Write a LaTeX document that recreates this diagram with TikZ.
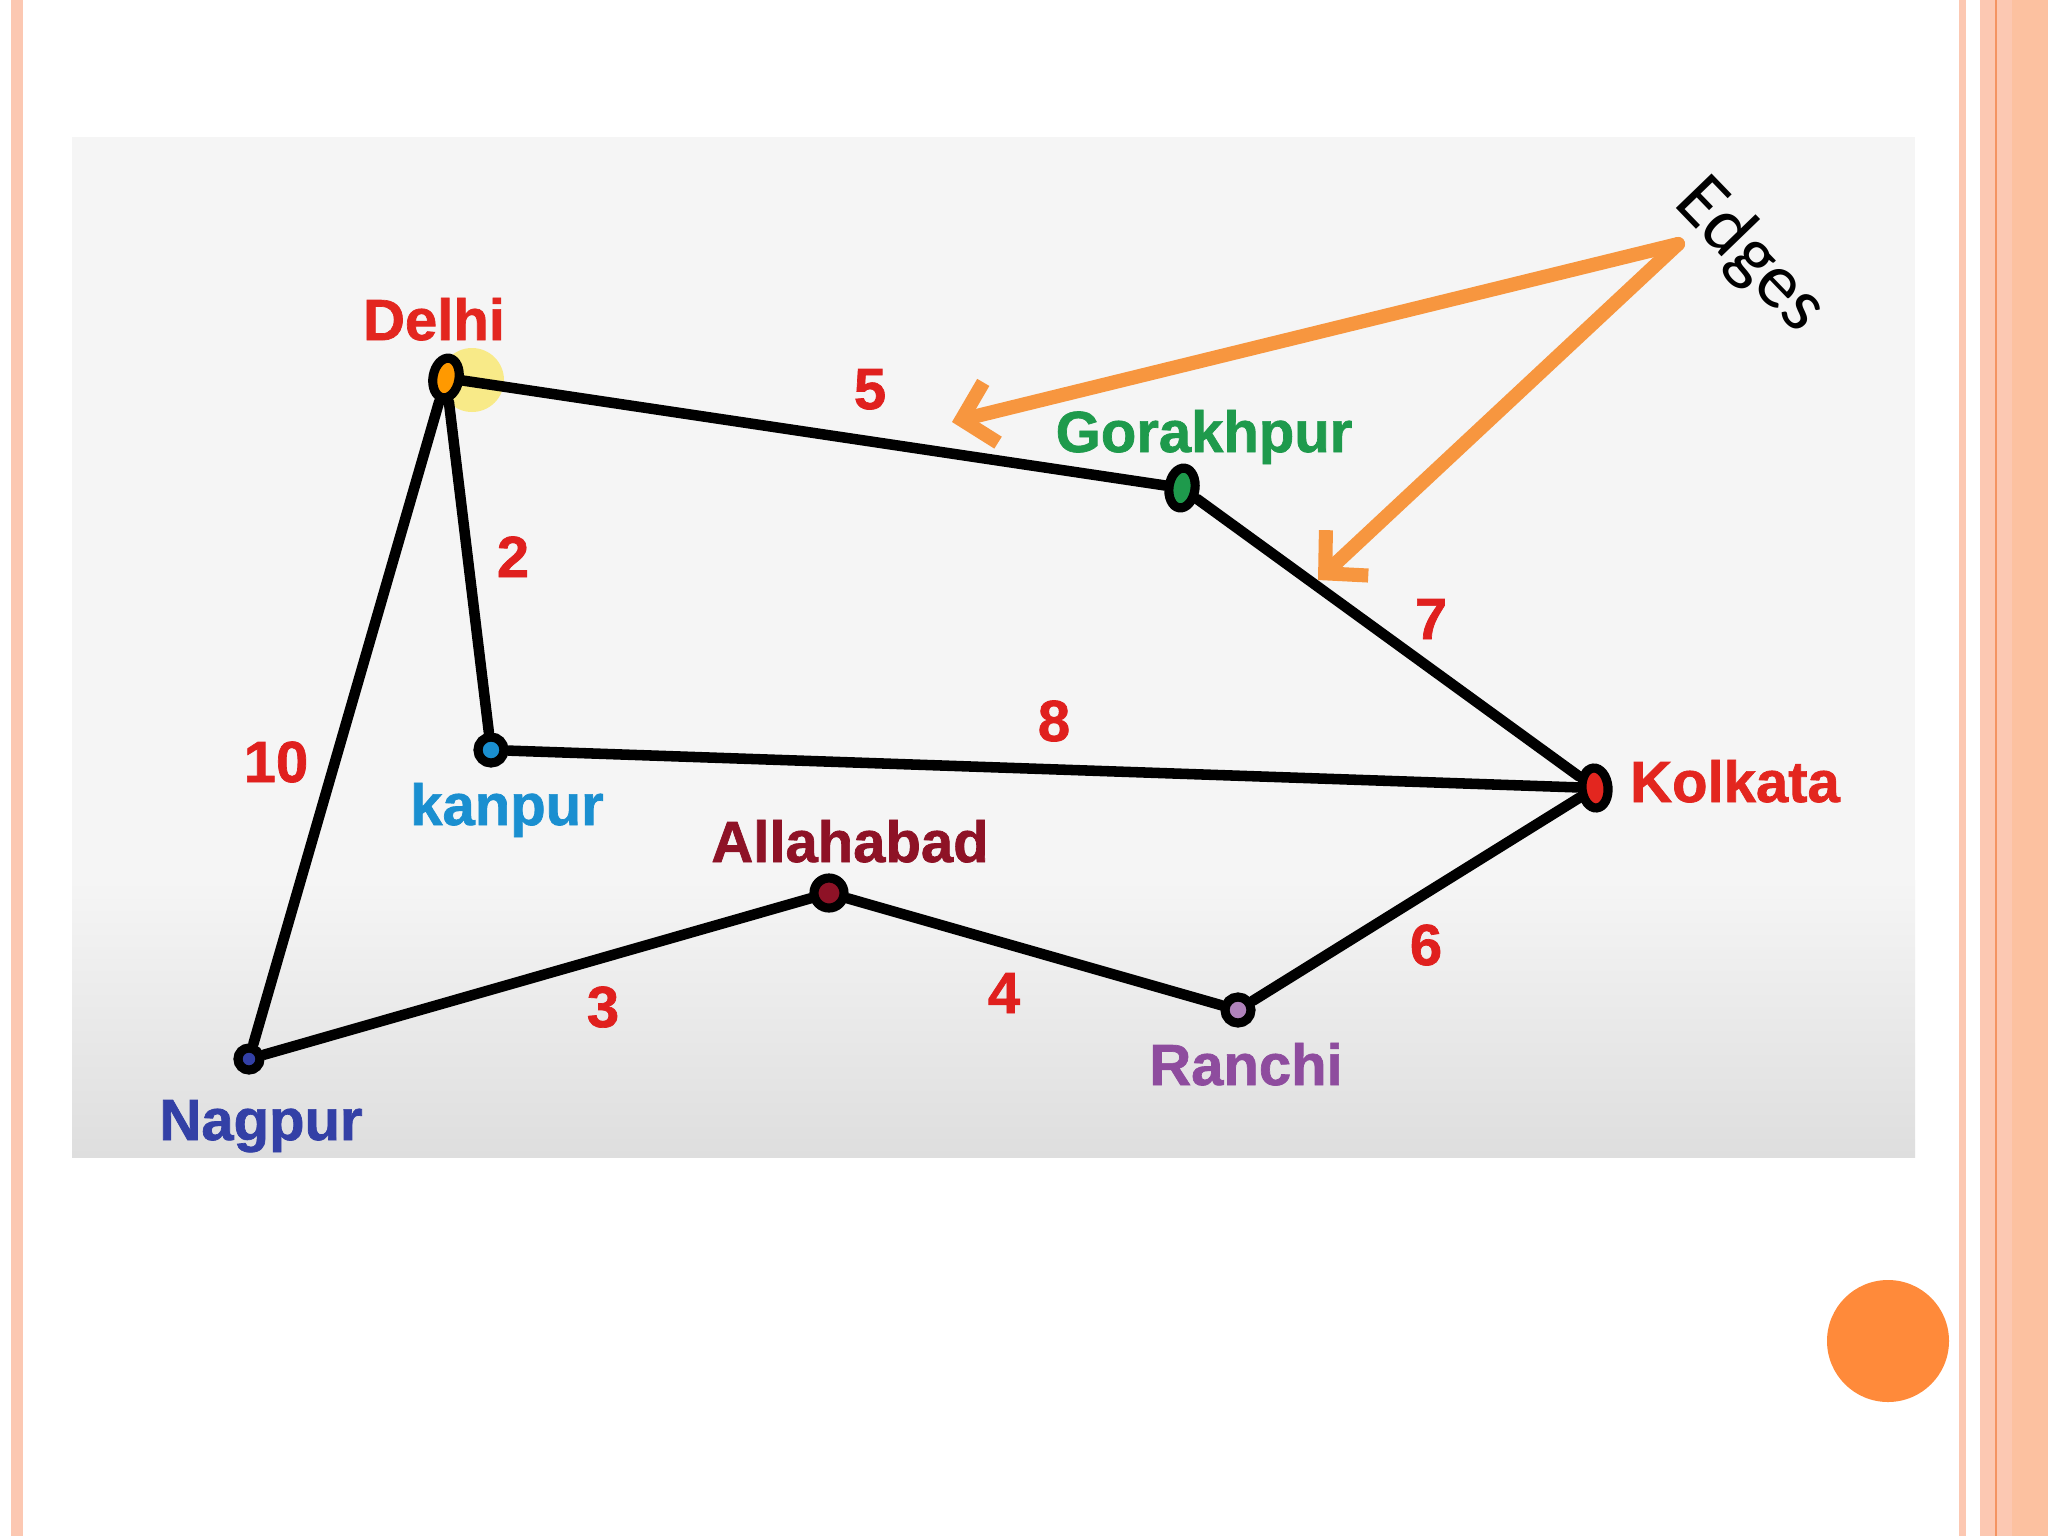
\documentclass[tikz,border=0pt]{standalone}
\usepackage{fontspec}
\setmainfont{Liberation Sans}[BoldFeatures={FakeBold=1.2}]
\newfontfamily\edgefont{Carlito}
\usetikzlibrary{shapes.geometric,arrows.meta}
\definecolor{slidepink}{HTML}{FCC8B2}
\definecolor{slideline}{HTML}{F49462}
\definecolor{panelgray}{HTML}{F5F5F5}
\definecolor{paneldark}{HTML}{DEDEDE}
\definecolor{numred}{HTML}{E0201E}
\definecolor{delhired}{HTML}{E3261F}
\definecolor{gorakgreen}{HTML}{1E9A4C}
\definecolor{kanpurblue}{HTML}{1A8FD0}
\definecolor{allared}{HTML}{8E1226}
\definecolor{ranchipurple}{HTML}{8E4C9E}
\definecolor{nagpurblue}{HTML}{3340A6}
\definecolor{pointerorange}{HTML}{F7963F}
\definecolor{dotorange}{HTML}{FF8A3A}

\begin{document}
\begin{tikzpicture}[x=0.01cm,y=-0.01cm,
	city/.style={ellipse,draw=black,line width=2.6pt,inner sep=0pt,minimum width=0.26cm,minimum height=0.26cm},
	tallcity/.style={city,minimum width=0.26cm,minimum height=0.4cm},
	cityname/.style={anchor=base,font=\bfseries\fontsize{16.5}{20}\selectfont},
	weight/.style={anchor=base,text=numred,font=\bfseries\fontsize{16.5}{20}\selectfont},
	road/.style={line width=3pt,draw=black,line cap=round},
	pointer/.style={line width=4pt,draw=pointerorange,line cap=round,-{Straight Barb[length=0.3cm,width=0.62cm]}}]
	\useasboundingbox (0,0) rectangle (2048,1536);
	% slide
	\fill[white] (0,0) rectangle (2048,1536);
	\fill[slidepink] (11,0) rectangle (23,1536);
	\fill[slidepink] (1959,0) rectangle (1966,1536);
	\fill[slidepink] (1980,0) rectangle (2048,1536);
	\fill[slidepink!90!orange] (2012,0) rectangle (2048,1536);
	\draw[slideline,line width=0.6pt] (1996,0) -- (1996,1536);
	\fill[dotorange] (1888,1341) circle (61);
	% panel
	\fill[panelgray] (72,137) rectangle (1915,1157);
	\shade[top color=panelgray,bottom color=paneldark] (72,880) rectangle (1915,1157);

	% cities
	\fill[yellow!80!orange,opacity=0.45] (472,380) circle (32);
	\node[tallcity,fill=orange!80!yellow,rotate=-10] (delhi) at (446,378) {};
	\node[tallcity,fill=gorakgreen,rotate=-8] (gorakhpur) at (1182,488) {};
	\node[tallcity,fill=delhired,rotate=5] (kolkata) at (1595,788) {};
	\node[city,fill=kanpurblue] (kanpur) at (491,750) {};
	\node[city,fill=allared,minimum size=0.3cm] (allahabad) at (829,893) {};
	\node[city,fill=ranchipurple!70!white] (ranchi) at (1238,1010) {};
	\node[city,fill=nagpurblue,minimum size=0.22cm] (nagpur) at (249,1059) {};

	\node[cityname,text=delhired] (delhiname) at (434,340) {Delhi};
	\node[cityname,text=gorakgreen] (gorakhpurname) at (1204,452) {Gorakhpur};
	\node[cityname,text=delhired] (kolkataname) at (1735,802) {Kolkata};
	\node[cityname,text=kanpurblue] (kanpurname) at (507,825) {kanpur};
	\node[cityname,text=allared] (allahabadname) at (850,862) {Allahabad};
	\node[cityname,text=ranchipurple] (ranchiname) at (1246,1085) {Ranchi};
	\node[cityname,text=nagpurblue] (nagpurname) at (261,1140) {Nagpur};

	% roads
	\draw[road] (delhi) -- (gorakhpur);
	\draw[road] (delhi) -- (kanpur);
	\draw[road] (delhi) -- (nagpur);
	\draw[road] (gorakhpur) -- (kolkata);
	\draw[road] (kanpur) -- (kolkata);
	\draw[road] (nagpur) -- (allahabad);
	\draw[road] (allahabad) -- (ranchi);
	\draw[road] (ranchi) -- (kolkata);

	\node[weight] (w5) at (870,409) {5};
	\node[weight] (w2) at (513,577) {2};
	\node[weight] (w7) at (1431,639) {7};
	\node[weight] (w8) at (1054,741) {8};
	\node[weight] (w10) at (276,782) {10};
	\node[weight] (w3) at (603,1027) {3};
	\node[weight] (w4) at (1004,1013) {4};
	\node[weight] (w6) at (1426,965) {6};

	% pointers
	\node[rotate=-46,font=\edgefont\fontsize{22}{26}\selectfont] (edges) at (1750,256) {Edges};
	\coordinate (fork) at (1678,244);
	\coordinate (tipa) at (952,422);
	\coordinate (tipb) at (1318,580);
	\draw[pointer] (fork) -- (tipa);
	\draw[pointer] (fork) -- (tipb);
\end{tikzpicture}
\end{document}
